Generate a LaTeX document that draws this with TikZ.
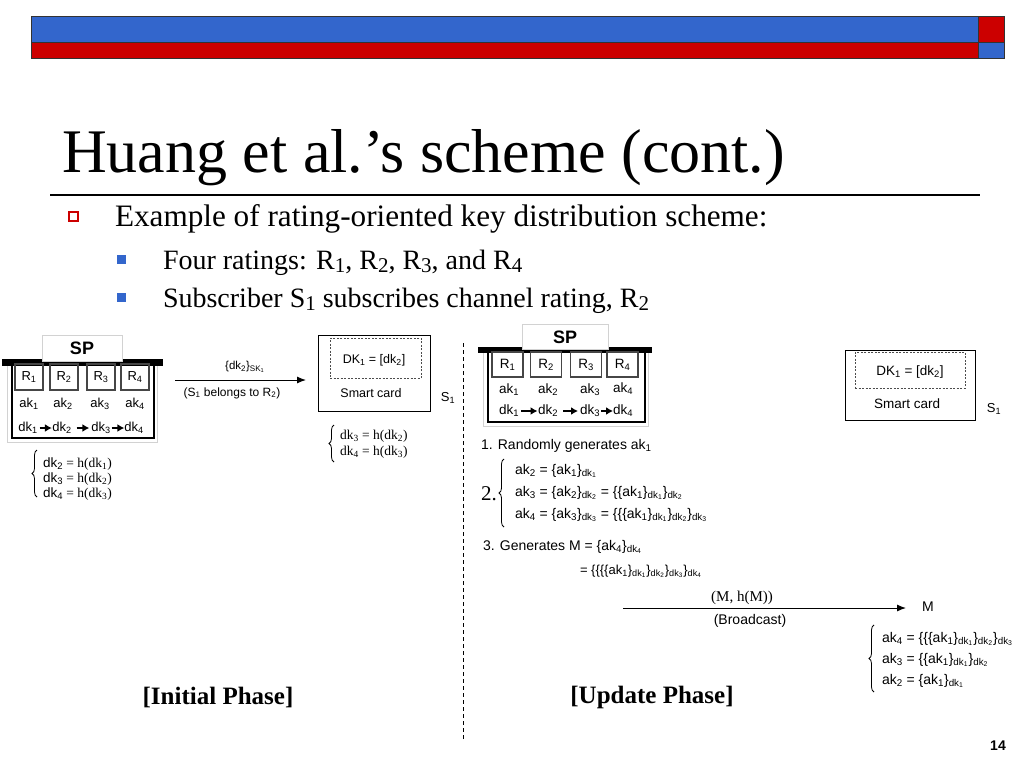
\documentclass[tikz,border=0pt]{standalone}
\usepackage{fontspec}
\setmainfont{Liberation Serif}
\newfontfamily\arial{Liberation Sans}
\usetikzlibrary{arrows.meta,decorations.pathreplacing}
\definecolor{hblue}{RGB}{51,102,204}
\definecolor{hred}{RGB}{204,0,0}
\newcommand{\sbs}[1]{\textsubscript{#1}}
\newcommand{\bsb}[1]{\raisebox{-0.3ex}{\scalebox{0.75}{#1}}}
\newcommand{\fs}[1]{\fontsize{#1}{#1}\selectfont}
\tikzset{
  txt/.style={inner sep=0pt, outer sep=0pt},
  sansL/.style={txt, font=\arial\fs{13}},
  sansR/.style={txt, font=\arial\fs{14}},
  rboxL/.style={draw=gray!55!black, line width=1.1pt, minimum width=28pt, minimum height=26pt, inner sep=0pt, font=\arial\fs{13}},
  rboxR/.style={draw=gray!55!black, line width=1.1pt, minimum width=31pt, minimum height=25pt, inner sep=0pt, font=\arial\fs{13.5}},
  spbox/.style={draw=black, line width=1.3pt, inner sep=0pt},
  frame/.style={draw=gray!35, line width=0.8pt},
  tab/.style={draw=gray!35, fill=white, line width=0.8pt, inner sep=0pt, font=\arial\bfseries\fs{18}},
  dkarr/.style={-{Latex[length=7pt,width=8pt]}, line width=1.6pt},
  msgarr/.style={-{Latex[length=9pt,width=7pt]}, line width=1pt},
  cardbox/.style={draw=black, line width=1pt, inner sep=0pt},
  dashbox/.style={draw=black!70, dashed, dash pattern=on 2pt off 1.5pt, line width=1pt, inner sep=0pt},
  bracestyle/.style={decorate, decoration={brace, amplitude=5pt}, line width=0.8pt},
  phase/.style={txt, font=\bfseries\fs{25}},
  bul/.style={txt, font=\fs{31.2}},
  subbul/.style={txt, font=\fs{28}}
}
\begin{document}
\begin{tikzpicture}[x=1pt,y=-1pt]
\useasboundingbox (0,0) rectangle (1024,768);
\fill[white] (0,0) rectangle (1024,768);
% header bars
\draw[fill=hblue, draw=black!80, line width=0.8pt] (31,16) rectangle (978,42);
\draw[fill=hred, draw=black!80, line width=0.8pt] (31,42) rectangle (978,58);
\draw[fill=hred, draw=black!80, line width=0.8pt] (978,16) rectangle (1004,42);
\draw[fill=hblue, draw=black!80, line width=0.8pt] (978,42) rectangle (1004,58);
% title
\node[txt, anchor=base west, font=\fs{62}] (title) at (62,172) {Huang et al.’s scheme (cont.)};
\draw[line width=1.2pt] (50,195) -- (980,195);
% bullets
\draw[hred, line width=1.3pt] (69,212) rectangle (78,221);
\node[bul, anchor=base west] (b1) at (115,226) {Example of rating-oriented key distribution scheme:};
\fill[hblue] (117,255) rectangle (126,264);
\node[subbul, anchor=base west] (b2) at (163,269) {Four ratings: R\bsb{1}, R\bsb{2}, R\bsb{3}, and R\bsb{4}};
\fill[hblue] (117,293) rectangle (126,302);
\node[subbul, anchor=base west] (b3) at (163,307) {Subscriber S\bsb{1} subscribes channel rating, R\bsb{2}};

% ===== Initial phase (left) =====
\draw[frame] (7,364) rectangle (157,442);
\fill[black] (2,359) rectangle (163,366);
\node[spbox, minimum width=142pt, minimum height=76pt] (spL) at (83,400) {};
\node[tab, minimum width=80pt, minimum height=26pt] (tabL) at (82,348) {SP};
\node[rboxL] (rL1) at (29,377) {R\sbs{1}};
\node[rboxL] (rL2) at (64,377) {R\sbs{2}};
\node[rboxL] (rL3) at (101,377) {R\sbs{3}};
\node[rboxL] (rL4) at (135,377) {R\sbs{4}};
\node[sansL] (akL1) at (29,404) {ak\sbs{1}};
\node[sansL] (akL2) at (63,404) {ak\sbs{2}};
\node[sansL] (akL3) at (100,404) {ak\sbs{3}};
\node[sansL] (akL4) at (135,404) {ak\sbs{4}};
\node[sansL] (dkL1) at (28,428) {dk\sbs{1}};
\node[sansL] (dkL2) at (62,428) {dk\sbs{2}};
\node[sansL] (dkL3) at (101,428) {dk\sbs{3}};
\node[sansL] (dkL4) at (134,428) {dk\sbs{4}};
\draw[dkarr, shorten <=2pt, shorten >=0.5pt] (dkL1) -- (dkL2);
\draw[dkarr, shorten <=5pt, shorten >=2pt] (dkL2) -- (dkL3);
\draw[dkarr, shorten <=1pt, shorten >=0pt] (dkL3) -- (dkL4);
% brace under SP
\draw[bracestyle] (37,497) -- (37,450);
\node[txt, anchor=base west, font=\fs{13.5}] (eqL1) at (43,467) {{\arial dk\sbs{2}} = h(dk\sbs{1})};
\node[txt, anchor=base west, font=\fs{13.5}] (eqL2) at (43,482) {{\arial dk\sbs{3}} = h(dk\sbs{2})};
\node[txt, anchor=base west, font=\fs{13.5}] (eqL3) at (43,497) {{\arial dk\sbs{4}} = h(dk\sbs{3})};
% message arrow
\coordinate (mL1) at (175,380);
\coordinate (mL2) at (306,380);
\draw[msgarr] (mL1) -- (mL2);
\node[txt, font=\arial\fs{11.5}] (lab1) at (245,367) {\{dk\sbs{2}\}\sbs{SK\sbs{1}}};
\node[txt, font=\arial\fs{12}] (lab2) at (232,393) {(S\sbs{1} belongs to R\sbs{2})};
% smart card
\node[cardbox, minimum width=112pt, minimum height=76pt] (cardL) at (374,373) {};
\node[dashbox, minimum width=91pt, minimum height=40pt] (dashL) at (375.5,358) {};
\node[txt, font=\arial\fs{12.5}] (dkcL) at (374,360) {DK\sbs{1} = [dk\sbs{2}]};
\node[txt, font=\arial\fs{12.5}] (scL) at (371,393) {Smart card};
\node[txt, font=\arial\fs{13}] (s1L) at (448,398) {S\sbs{1}};
\draw[bracestyle] (334,462) -- (334,425);
\node[txt, anchor=base west, font=\fs{13.5}] (eqS1) at (340,439) {dk\sbs{3} = h(dk\sbs{2})};
\node[txt, anchor=base west, font=\fs{13.5}] (eqS2) at (340,455) {dk\sbs{4} = h(dk\sbs{3})};
\node[phase] (ph1) at (218,697) {[Initial Phase]};

% separator
\coordinate (sepT) at (463,343);
\coordinate (sepB) at (463,740);
\draw[dashed, dash pattern=on 4pt off 3pt, line width=0.8pt] (sepT) -- (sepB);

% ===== Update phase (right) =====
\draw[frame] (483,352) rectangle (648,426);
\fill[black] (478,347) rectangle (652,353);
\node[spbox, minimum width=157pt, minimum height=72pt] (spR) at (566.5,386) {};
\node[tab, minimum width=86pt, minimum height=25pt] (tabR) at (565,337) {SP};
\node[rboxR] (rR1) at (507.5,364.5) {R\sbs{1}};
\node[rboxR] (rR2) at (546,364.5) {R\sbs{2}};
\node[rboxR] (rR3) at (586,364.5) {R\sbs{3}};
\node[rboxR] (rR4) at (622.5,364.5) {R\sbs{4}};
\node[txt, font=\arial\fs{13.5}] (akR1) at (509,390) {ak\sbs{1}};
\node[txt, font=\arial\fs{13.5}] (akR2) at (548,390) {ak\sbs{2}};
\node[txt, font=\arial\fs{13.5}] (akR3) at (590,390) {ak\sbs{3}};
\node[txt, font=\arial\fs{13.5}] (akR4) at (623,389) {ak\sbs{4}};
\node[txt, font=\arial\fs{13.5}] (dkR1) at (509,411) {dk\sbs{1}};
\node[txt, font=\arial\fs{13.5}] (dkR2) at (548,411) {dk\sbs{2}};
\node[txt, font=\arial\fs{13.5}] (dkR3) at (590,411) {dk\sbs{3}};
\node[txt, font=\arial\fs{13.5}] (dkR4) at (623,411) {dk\sbs{4}};
\draw[dkarr, shorten <=2pt, shorten >=0.5pt] (dkR1) -- (dkR2);
\draw[dkarr, shorten <=5pt, shorten >=2pt] (dkR2) -- (dkR3);
\draw[dkarr, shorten <=1pt, shorten >=0pt] (dkR3) -- (dkR4);
% smart card right
\node[cardbox, minimum width=130pt, minimum height=70pt] (cardR) at (910,385) {};
\node[dashbox, minimum width=110pt, minimum height=36pt] (dashR) at (910,370) {};
\node[txt, font=\arial\fs{13.5}] (dkcR) at (910,372) {DK\sbs{1} = [dk\sbs{2}]};
\node[txt, font=\arial\fs{13.5}] (scR) at (907,404) {Smart card};
\node[txt, font=\arial\fs{13}] (s1R) at (994,409) {S\sbs{1}};
% steps
\node[sansR, anchor=base west] (st1) at (481,449) {1. Randomly generates ak\sbs{1}};
\node[txt, anchor=base west, font=\fs{21}] (st2) at (481,500) {2.};
\draw[bracestyle] (504,527) -- (504,459);
\node[sansR, anchor=base west] (q1) at (515,474) {ak\sbs{2} = \{ak\sbs{1}\}\sbs{dk\sbs{1}}};
\node[sansR, anchor=base west] (q2) at (515,496) {ak\sbs{3} = \{ak\sbs{2}\}\sbs{dk\sbs{2}} = \{\{ak\sbs{1}\}\sbs{dk\sbs{1}}\}\sbs{dk\sbs{2}}};
\node[sansR, anchor=base west] (q3) at (515,518) {ak\sbs{4} = \{ak\sbs{3}\}\sbs{dk\sbs{3}} = \{\{\{ak\sbs{1}\}\sbs{dk\sbs{1}}\}\sbs{dk\sbs{2}}\}\sbs{dk\sbs{3}}};
\node[sansR, anchor=base west] (st3) at (483,550) {3. Generates M = \{ak\sbs{4}\}\sbs{dk\sbs{4}}};
\node[sansR, anchor=base west, font=\arial\fs{13}] (st3b) at (580,574) {= \{\{\{\{ak\sbs{1}\}\sbs{dk\sbs{1}}\}\sbs{dk\sbs{2}}\}\sbs{dk\sbs{3}}\}\sbs{dk\sbs{4}}};
% broadcast arrow
\coordinate (mR1) at (623,608);
\coordinate (mR2) at (906,608);
\draw[msgarr] (mR1) -- (mR2);
\node[txt, font=\fs{15}] (lab3) at (742,598) {(M, h(M))};
\node[sansR] (lab4) at (750,621) {(Broadcast)};
\node[sansR] (mR) at (928,607) {M};
\draw[bracestyle] (874,692) -- (874,625);
\node[sansR, anchor=base west] (r1) at (882,642) {ak\sbs{4} = \{\{\{ak\sbs{1}\}\sbs{dk\sbs{1}}\}\sbs{dk\sbs{2}}\}\sbs{dk\sbs{3}}};
\node[sansR, anchor=base west] (r2) at (882,663) {ak\sbs{3} = \{\{ak\sbs{1}\}\sbs{dk\sbs{1}}\}\sbs{dk\sbs{2}}};
\node[sansR, anchor=base west] (r3) at (882,684) {ak\sbs{2} = \{ak\sbs{1}\}\sbs{dk\sbs{1}}};
\node[phase] (ph2) at (652,697) {[Update Phase]};
% page number
\node[txt, font=\arial\bfseries\fs{14}] (pg) at (998,746) {14};
\end{tikzpicture}
\end{document}
